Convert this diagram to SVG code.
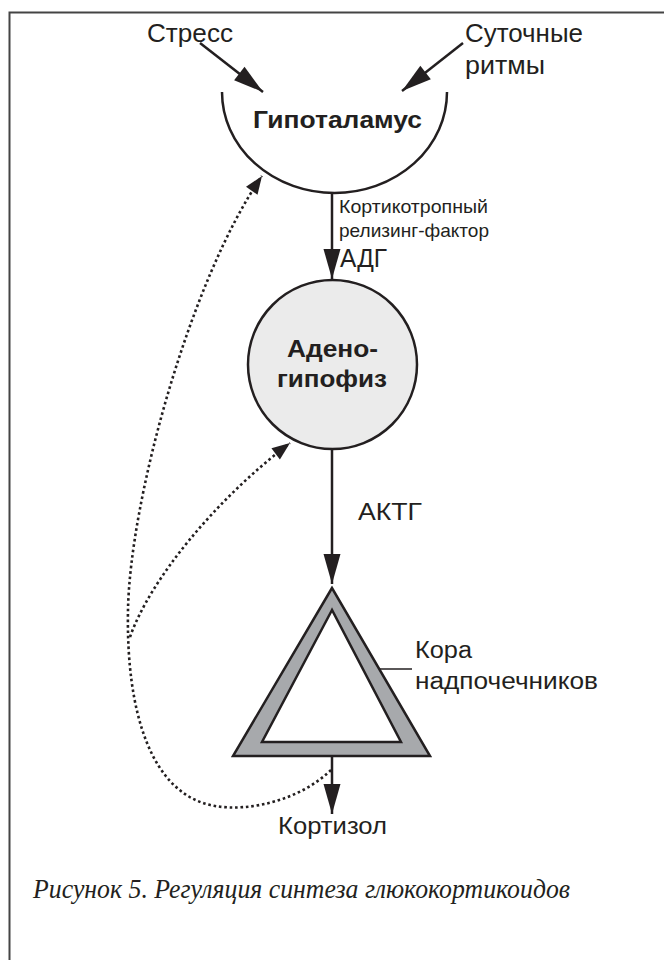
<svg xmlns="http://www.w3.org/2000/svg" width="664" height="960" viewBox="0 0 664 960">
<defs>
<style>
text{font-family:"Liberation Sans",Arial,sans-serif;fill:#231f20}
.lbl{font-size:26px}
.b{font-weight:bold;font-size:24px}
.sm{font-size:19px}
.cap{font-family:"Liberation Serif","Times New Roman",serif;font-style:italic;font-size:27px}
.ln{fill:none;stroke:#231f20;stroke-width:2.5}
.dot{fill:none;stroke:#231f20;stroke-width:2.6;stroke-dasharray:2.6 2.8}
</style>
<marker id="ah" markerUnits="userSpaceOnUse" markerWidth="30" markerHeight="17" refX="30" refY="8.5" orient="auto" overflow="visible">
<path d="M0,0 L30,8.5 L0,17 z" fill="#231f20"/>
</marker>
<marker id="ahs" markerUnits="userSpaceOnUse" markerWidth="18" markerHeight="14" refX="18" refY="7" orient="auto" overflow="visible">
<path d="M0,0 L18,7 L0,14 z" fill="#231f20"/>
</marker>
</defs>
<rect width="664" height="960" fill="#fff"/>
<path d="M9.5,960 V12.5 H664" fill="none" stroke="#444" stroke-width="2"/>

<g id="stress"><text class="lbl" x="147" y="42" textLength="86" lengthAdjust="spacingAndGlyphs">Стресс</text></g>
<g id="rhythms"><text class="lbl" x="465" y="42" textLength="118" lengthAdjust="spacingAndGlyphs">Суточные</text><text class="lbl" x="465" y="74" textLength="80" lengthAdjust="spacingAndGlyphs">ритмы</text></g>

<g id="hypothalamus">
<path class="ln" d="M222,92 A112.5,101 0 0 0 447,92"/>
<text class="b" x="253" y="128" textLength="169" lengthAdjust="spacingAndGlyphs">Гипоталамус</text>
</g>

<g id="adenohypophysis">
<circle cx="332.5" cy="364.5" r="84.5" fill="#ebebeb" stroke="#231f20" stroke-width="2.5"/>
<text class="b" x="287" y="357" textLength="91" lengthAdjust="spacingAndGlyphs">Адено-</text>
<text class="b" x="277" y="387" textLength="110" lengthAdjust="spacingAndGlyphs">гипофиз</text>
</g>

<g id="adrenal">
<polygon points="332,588 233,756 430,756" fill="#a7a9ac" stroke="#231f20" stroke-width="2.5"/>
<polygon points="332,610 262,742 401,742" fill="#fff" stroke="#231f20" stroke-width="2.5"/>
<line x1="380" y1="669" x2="412" y2="669" stroke="#231f20" stroke-width="1.5"/>
<text class="lbl" x="415" y="658" style="font-size:23px" textLength="57" lengthAdjust="spacingAndGlyphs">Кора</text>
<text class="lbl" x="415" y="689" style="font-size:23px" textLength="183" lengthAdjust="spacingAndGlyphs">надпочечников</text>
</g>

<g id="cortisol"><text class="lbl" x="278" y="834" style="font-size:23px" textLength="109" lengthAdjust="spacingAndGlyphs">Кортизол</text></g>

<g id="connectors">
<line class="ln" x1="200" y1="43" x2="263" y2="92" marker-end="url(#ah)"/>
<line class="ln" x1="463" y1="43" x2="402" y2="91" marker-end="url(#ah)"/>
<line class="ln" x1="332" y1="193" x2="332" y2="279" marker-end="url(#ah)"/>
<line class="ln" x1="332" y1="449" x2="332" y2="584" marker-end="url(#ah)"/>
<line class="ln" x1="332" y1="756" x2="332" y2="814" marker-end="url(#ah)"/>
<path class="dot" d="M331,770 C300,800 250,812 215,806 C150,795 126,710 128,610 C130,500 190,280 262,176" marker-end="url(#ahs)"/>
<path class="dot" d="M130,637 C150,580 215,500 290,443" marker-end="url(#ahs)"/>
<text class="sm" x="339" y="213" textLength="149" lengthAdjust="spacingAndGlyphs">Кортикотропный</text>
<text class="sm" x="339" y="237" textLength="150" lengthAdjust="spacingAndGlyphs">релизинг-фактор</text>
<text class="lbl" x="340" y="267" textLength="47" lengthAdjust="spacingAndGlyphs">АДГ</text>
<text class="lbl" x="358" y="520" style="font-size:24px" textLength="64" lengthAdjust="spacingAndGlyphs">АКТГ</text>
</g>

<g id="caption"><text class="cap" x="33" y="898" textLength="537" lengthAdjust="spacingAndGlyphs">Рисунок 5. Регуляция синтеза глюкокортикоидов</text></g>
</svg>
